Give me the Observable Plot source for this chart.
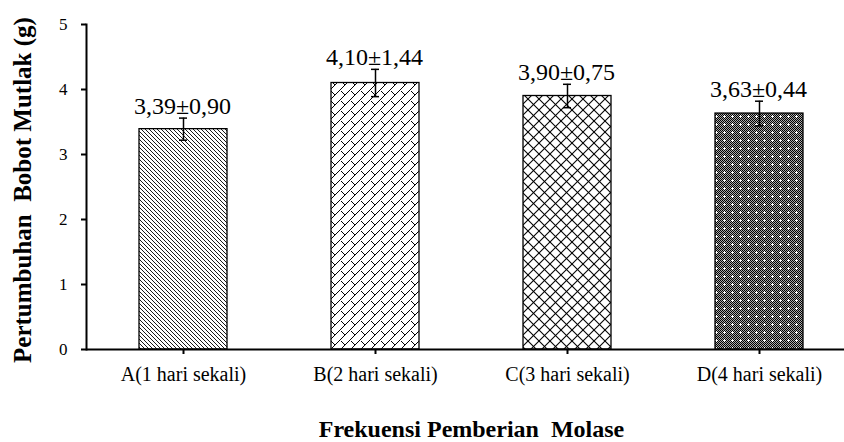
<!DOCTYPE html>
<html>
<head>
<meta charset="utf-8">
<script src="https://cdn.jsdelivr.net/npm/d3@7"></script>
<script src="https://cdn.jsdelivr.net/npm/@observablehq/plot@0.6"></script>
<style>
  html, body { margin: 0; padding: 0; background: #fff; }
</style>
</head>
<body>
<div id="chart"></div>
<script>
const categories = ["A(1 hari sekali)", "B(2 hari sekali)", "C(3 hari sekali)", "D(4 hari sekali)"];
const means = [3.39, 4.10, 3.90, 3.63];
const errors = [0.17, 0.21, 0.18, 0.19];
const valueLabels = ["3,39±0,90", "4,10±1,44", "3,90±0,75", "3,63±0,44"];
const yTicks = [0, 1, 2, 3, 4, 5];
const yTitle = "Pertumbuhan  Bobot Mutlak (g)";
const xTitle = "Frekuensi Pemberian  Molase";

const data = categories.map((c, i) => ({cat: c, mean: means[i], err: errors[i], label: valueLabels[i]}));

const svg = Plot.plot({
  width: 844,
  height: 442,
  marginTop: 24,
  marginBottom: 93,
  marginLeft: 86,
  marginRight: -12,
  style: {fontFamily: "'Liberation Serif', 'Times New Roman', serif", color: "#000", background: "#fff"},
  x: {domain: categories, paddingInner: 0.543, paddingOuter: 0.2715, label: null},
  y: {domain: [0, 5], label: null},
  marks: [
    Plot.barY(data, {x: "cat", y: "mean", fill: (d, i) => `url(#pat${i})`, stroke: "#000", strokeWidth: 1.3}),
    Plot.ruleX(data, {x: "cat", y1: d => d.mean - d.err, y2: d => d.mean + d.err, stroke: "#000", strokeWidth: 1.5}),
    Plot.tickY(data, {x: "cat", y: d => d.mean - d.err, insetLeft: 40, insetRight: 40, stroke: "#000", strokeWidth: 1.5}),
    Plot.tickY(data, {x: "cat", y: d => d.mean + d.err, insetLeft: 40, insetRight: 40, stroke: "#000", strokeWidth: 1.5}),
    Plot.text(data, {x: "cat", y: d => d.mean + d.err, text: "label", lineAnchor: "bottom", dx: -1, dy: -4, fontSize: 24, fill: "#000"}),
    Plot.axisY({ticks: yTicks, tickSize: 5, tickPadding: 14, fontSize: 17, strokeWidth: 2, label: null, tickFormat: d => String(d)}),
    Plot.axisX({tickSize: 5, tickPadding: 12, fontSize: 20, strokeWidth: 2, label: null}),
    Plot.ruleY([0], {stroke: "#000", strokeWidth: 2}),
    Plot.frame({anchor: "left", stroke: "#000", strokeWidth: 2}),
    Plot.text([yTitle], {text: d => d, frameAnchor: "left", textAnchor: "middle", lineAnchor: "middle", rotate: -90, dx: -64, dy: 3, fontSize: 25, fontWeight: "bold", fill: "#000"}),
    Plot.text([xTitle], {text: d => d, frameAnchor: "bottom", textAnchor: "middle", lineAnchor: "bottom", dy: 87, fontSize: 24, fontWeight: "bold", fill: "#000"})
  ]
});

// hatch patterns
const defs = d3.select(svg).insert("defs", ":first-child");
function pattern(id, size) {
  const p = defs.append("pattern").attr("id", id).attr("patternUnits", "userSpaceOnUse")
    .attr("width", size).attr("height", size);
  p.append("rect").attr("width", size).attr("height", size).attr("fill", "#fff");
  return p;
}
// A: backslash diagonal lines
{
  const s = 4, p = pattern("pat0", s);
  const g = p.append("g").attr("stroke", "#000").attr("stroke-width", 0.9);
  g.append("line").attr("x1", 0).attr("y1", 0).attr("x2", s).attr("y2", s);
  g.append("line").attr("x1", -1).attr("y1", s - 1).attr("x2", 1).attr("y2", s + 1);
  g.append("line").attr("x1", s - 1).attr("y1", -1).attr("x2", s + 1).attr("y2", 1);
}
// B: diagonal brick ("/" lines joined by short "\" strokes)
{
  const s = 10, p = pattern("pat1", s);
  const g = p.append("g").attr("stroke", "#000").attr("stroke-width", 1);
  g.append("line").attr("x1", 0).attr("y1", s).attr("x2", s).attr("y2", 0);
  g.append("line").attr("x1", -1).attr("y1", 1).attr("x2", 1).attr("y2", -1);
  g.append("line").attr("x1", s - 1).attr("y1", s + 1).attr("x2", s + 1).attr("y2", s - 1);
  g.append("line").attr("x1", 1).attr("y1", 1).attr("x2", s / 2).attr("y2", s / 2);
}
// C: diagonal crosshatch
{
  const s = 11, p = pattern("pat2", s);
  const g = p.append("g").attr("stroke", "#000").attr("stroke-width", 1.1);
  g.append("line").attr("x1", 0).attr("y1", 0).attr("x2", s).attr("y2", s);
  g.append("line").attr("x1", 0).attr("y1", s).attr("x2", s).attr("y2", 0);
}
// D: dark dotted with white crosses
{
  const s = 8, p = pattern("pat3", s);
  p.select("rect").attr("fill", "#aaa");
  for (let x = 0; x < s; x++) for (let y = 0; y < s; y++) {
    if ((x + y) % 2 === 0) p.append("rect").attr("x", x).attr("y", y).attr("width", 1).attr("height", 1).attr("fill", "#000");
  }
  p.append("rect").attr("x", 3).attr("y", 4).attr("width", 3).attr("height", 1).attr("fill", "#fff");
  p.append("rect").attr("x", 4).attr("y", 3).attr("width", 1).attr("height", 3).attr("fill", "#fff");
}

document.getElementById("chart").appendChild(svg);
</script>
</body>
</html>
